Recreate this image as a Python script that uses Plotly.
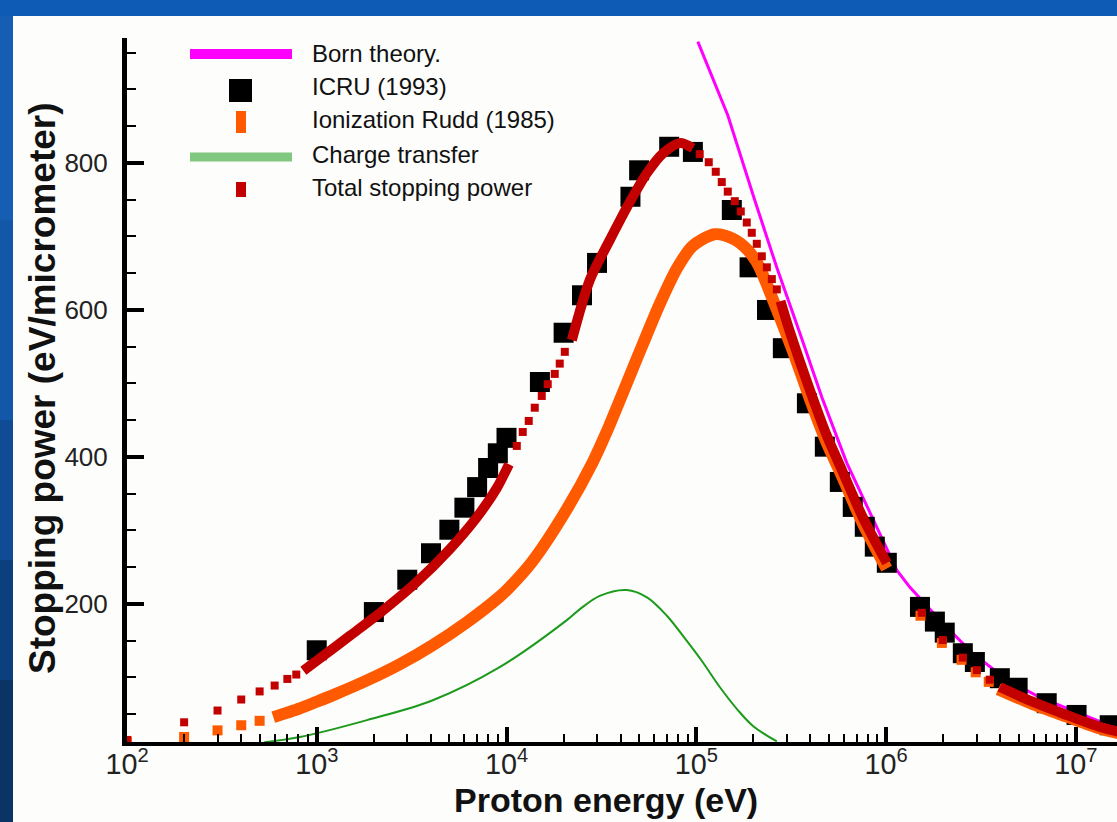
import plotly.graph_objects as go

# ---------------- data (energy in eV, stopping power in eV/micrometer) ----------------
# ICRU (1993) reference values
icru_E = [1e3, 2e3, 3e3, 4e3, 5e3, 6e3, 7e3, 8e3, 9e3, 1e4,
          1.5e4, 2e4, 2.5e4, 3e4, 4.5e4, 5e4, 7.2e4, 9.6e4,
          1.54e5, 1.91e5, 2.36e5, 2.86e5, 3.83e5, 4.76e5, 5.71e5, 6.68e5, 7.73e5, 8.73e5, 1.01e6,
          1.51e6, 1.81e6, 2.04e6, 2.54e6, 2.94e6, 3.98e6, 4.94e6, 7.03e6, 1.01e7, 1.51e7]
icru_V = [137, 189, 233, 269, 301, 331, 359, 385, 405, 426,
          502, 569, 620, 664, 754, 790, 822, 815,
          736, 658, 600, 548, 473, 414, 366, 332, 305, 278, 256,
          196, 176, 161, 133, 121, 99, 86, 65, 49, 35]

# Born theory
born_E = [1.019e5, 1.466e5, 2.03e5, 2.655e5, 3.51e5, 4.64e5, 6.21e5, 8.93e5,
          1.14e6, 1.334e6, 1.919e6, 2.86e6, 4.33e6, 6.46e6, 1.01e7, 1.64e7]
born_V = [965, 865, 750, 658, 569, 478, 392, 305,
          246, 223, 178, 133, 97, 73, 53, 31]

# Charge transfer
ct_E = [530, 815, 1840, 4090, 9200, 20800, 24400, 31000, 43000, 55000,
        70000, 89000, 108000, 133000, 164000, 199000, 266000]
ct_V = [12, 19, 42, 69, 114, 178, 193, 211, 219, 209,
        184, 150, 121, 87, 57, 34, 13]

# Ionization, Rudd (1985): isolated points and densely sampled stretches
ion_pts_E = [100, 200, 300, 400, 500, 1.52e6, 1.97e6, 2.5e6, 2.97e6, 3.48e6]
ion_pts_V = [13, 19, 28, 35, 41, 184, 147, 124, 107, 94]
ion_seg1_E = [590, 815, 1000, 1220, 1840, 2740, 4090, 6170, 9210, 10400, 13700, 20800,
              28500, 33700, 43000, 52200, 64200, 78900, 95700, 125000, 155700, 184500,
              208400, 224100, 265500, 322300, 396000, 486000, 591000, 754000, 1008000]
ion_seg1_V = [46, 58, 67, 76, 96, 118, 144, 175, 210, 223, 258, 329,
              393, 434, 500, 553, 608, 656, 687, 703, 697, 683,
              665, 648, 601, 545, 480, 420, 372, 310, 248]
ion_seg2_E = [3.9e6, 5.9e6, 8.9e6, 1.33e7, 1.7e7]
ion_seg2_V = [84, 64, 47, 31, 24]

# Total stopping power: isolated points and densely sampled stretches
tot_pts_E = [100, 200, 300, 400, 500, 600, 700, 780,
             11330, 12180, 13100, 14090, 15340, 16490, 17960, 19080, 20290,
             104300, 116400, 126700, 136300, 146600, 159600, 171700, 184600, 196200,
             208500, 221600, 235500, 250200, 265800,
             1.542e6, 1.99e6, 2.54e6, 3.01e6, 3.52e6]
tot_pts_V = [15, 39, 55, 70, 81, 89, 98, 104,
             415, 434, 449, 467, 483, 499, 513, 527, 543,
             812, 801, 788, 774, 761, 748, 734, 719, 705,
             690, 673, 658, 642, 628,
             188, 151, 127, 110, 97]
tot_seg1_E = [850, 1040, 1500, 2230, 3370, 5000, 6980, 8900, 10300]
tot_seg1_V = [109, 126, 157, 191, 230, 274, 318, 358, 390]
tot_seg2_E = [22100, 27500, 35000, 44700, 54900, 66700, 82000, 96000]
tot_seg2_V = [559, 641, 695, 747, 786, 813, 827, 820]
tot_seg3_E = [278000, 310000, 396000, 486000, 591000, 754000, 1010000]
tot_seg3_V = [612, 572, 492, 430, 380, 318, 256]
tot_seg4_E = [3.98e6, 5.92e6, 8.93e6, 1.33e7, 1.7e7]
tot_seg4_V = [87, 67, 49, 33, 26]

legend_labels = ["Born theory.", "ICRU (1993)", "Ionization Rudd (1985)",
                 "Charge transfer", "Total stopping power"]

# ---------------- styling ----------------
W, H = 1117, 822
L, R, T, B = 127, 0, 38, 80
FONT = "Liberation Sans"
MAGENTA = "#ff00ff"
ORANGE = "#ff5a00"
DARKRED = "#c20000"
GREEN = "#1c9a1c"


def joined(*segs):
    """Join (E, V) stretches into one pair of lists, separated by gaps."""
    xs, ys = [], []
    for e, v in segs:
        if xs:
            xs.append(None)
            ys.append(None)
        xs.extend(e)
        ys.extend(v)
    return xs, ys


def pxx(X):
    return (X - L) / (W - L - R)


def pxy(Y):
    return (H - B - Y) / (H - T - B)


fig = go.Figure()

fig.add_trace(go.Scatter(x=born_E, y=born_V, mode="lines",
                         line=dict(color=MAGENTA, width=3), name=legend_labels[0]))
fig.add_trace(go.Scatter(x=icru_E, y=icru_V, mode="markers",
                         marker=dict(symbol="square", size=20, color="black"),
                         name=legend_labels[1]))

ix, iy = joined((ion_seg1_E, ion_seg1_V), (ion_seg2_E, ion_seg2_V))
fig.add_trace(go.Scatter(x=ix, y=iy, mode="lines", connectgaps=False,
                         line=dict(color=ORANGE, width=12, shape="spline", smoothing=0.8),
                         name=legend_labels[2]))
fig.add_trace(go.Scatter(x=ion_pts_E, y=ion_pts_V, mode="markers",
                         marker=dict(symbol="square", size=10, color=ORANGE),
                         showlegend=False))

fig.add_trace(go.Scatter(x=ct_E, y=ct_V, mode="lines",
                         line=dict(color=GREEN, width=2, shape="spline"),
                         name=legend_labels[3]))

tx, ty = joined((tot_seg1_E, tot_seg1_V), (tot_seg2_E, tot_seg2_V),
                (tot_seg3_E, tot_seg3_V), (tot_seg4_E, tot_seg4_V))
fig.add_trace(go.Scatter(x=tx, y=ty, mode="lines", connectgaps=False,
                         line=dict(color=DARKRED, width=10, shape="spline", smoothing=0.8),
                         name=legend_labels[4]))
fig.add_trace(go.Scatter(x=tot_pts_E, y=tot_pts_V, mode="markers",
                         marker=dict(symbol="square", size=8, color=DARKRED),
                         showlegend=False))

# ---------------- frame: blue slide border around a white panel ----------------
shapes = [dict(type="rect", xref="paper", yref="paper", layer="below",
               x0=pxx(13), x1=pxx(W + 5), y0=pxy(16), y1=pxy(H + 5),
               fillcolor="#fdfdfb", line=dict(width=0))]
strip = [(16, 220, "#155eb4"), (220, 420, "#1257a8"), (420, 560, "#0f4c95"),
         (560, 680, "#0c3f7e"), (680, H + 5, "#0a3366")]
for y0, y1, c in strip:
    shapes.append(dict(type="rect", xref="paper", yref="paper", layer="below",
                       x0=pxx(-5), x1=pxx(13), y0=pxy(y0), y1=pxy(y1),
                       fillcolor=c, line=dict(width=0)))

# ---------------- legend block ----------------
shapes += [
    dict(type="line", xref="paper", yref="paper", x0=pxx(190), x1=pxx(292),
         y0=pxy(54), y1=pxy(54), line=dict(color=MAGENTA, width=10)),
    dict(type="rect", xref="paper", yref="paper", x0=pxx(229), x1=pxx(252),
         y0=pxy(79), y1=pxy(102), fillcolor="black", line=dict(width=0)),
    dict(type="rect", xref="paper", yref="paper", x0=pxx(236), x1=pxx(246),
         y0=pxy(111), y1=pxy(133), fillcolor=ORANGE, line=dict(width=0)),
    dict(type="line", xref="paper", yref="paper", x0=pxx(190), x1=pxx(292),
         y0=pxy(157), y1=pxy(157), line=dict(color="#80c880", width=9)),
    dict(type="rect", xref="paper", yref="paper", x0=pxx(236), x1=pxx(246),
         y0=pxy(182), y1=pxy(197), fillcolor=DARKRED, line=dict(width=0)),
]

annotations = []
for label, yc in zip(legend_labels, [54, 87, 120, 154, 188]):
    annotations.append(dict(text=label, xref="paper", yref="paper",
                            x=pxx(310), y=pxy(yc), xanchor="left", yanchor="middle",
                            showarrow=False, font=dict(family=FONT, size=24, color="#111")))

annotations.append(dict(text="<b>Stopping power (eV/micrometer)</b>", xref="paper", yref="paper",
                        x=pxx(42), y=pxy(388), textangle=-90, showarrow=False,
                        xanchor="center", yanchor="middle",
                        font=dict(family=FONT, size=37, color="#111")))
annotations.append(dict(text="<b>Proton energy (eV)</b>", xref="paper", yref="paper",
                        x=pxx(606), y=pxy(800), showarrow=False,
                        xanchor="center", yanchor="middle",
                        font=dict(family=FONT, size=34, color="#111")))

fig.update_layout(
    width=W, height=H,
    margin=dict(l=L, r=R, t=T, b=B, pad=0),
    paper_bgcolor="#0d5bb5",
    plot_bgcolor="#fdfdfb",
    showlegend=False,
    shapes=shapes,
    annotations=annotations,
    font=dict(family=FONT, color="#222"),
)

fig.update_xaxes(
    type="log", range=[2, 2 + (W - L - R) / 189.75],
    showgrid=False, zeroline=False,
    showline=True, linecolor="black", linewidth=4,
    ticks="inside", ticklen=15, tickwidth=4, tickcolor="black",
    dtick=1, exponentformat="power", showexponent="all",
    ticklabelstandoff=-5,
    tickfont=dict(family=FONT, size=23, color="#222"),
    minor=dict(ticks="inside", ticklen=8, tickwidth=2, tickcolor="black", dtick="D1",
               showgrid=False),
)
fig.update_yaxes(
    range=[12.2, 970],
    showgrid=False, zeroline=False,
    showline=True, linecolor="black", linewidth=5,
    ticks="inside", ticklen=17, tickwidth=4, tickcolor="black",
    tick0=0, dtick=200,
    ticklabelstandoff=9,
    tickfont=dict(family=FONT, size=26, color="#222"),
    minor=dict(ticks="inside", ticklen=9, tickwidth=2, tickcolor="black", dtick=50,
               showgrid=False),
)

fig.write_html("out.html", config=dict(displayModeBar=False))
